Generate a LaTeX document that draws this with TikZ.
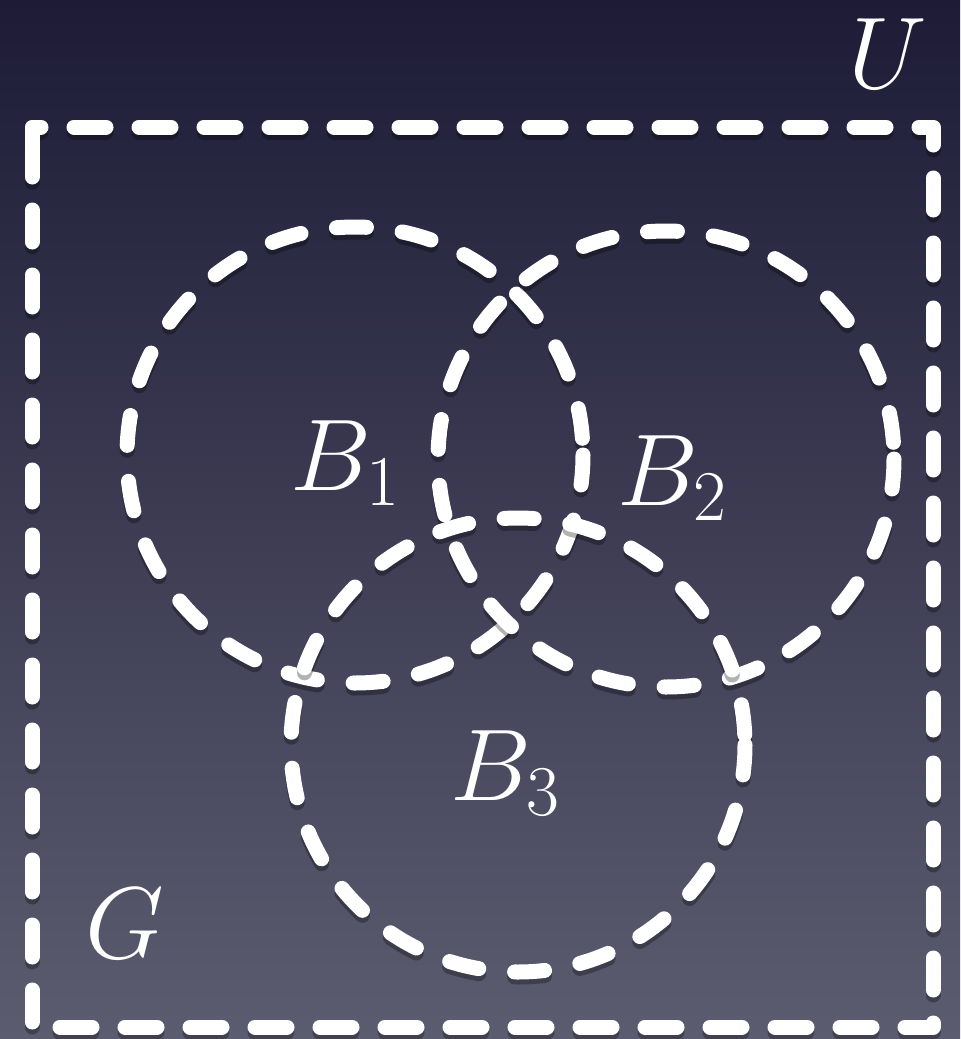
\RequirePackage{fix-cm}
\documentclass[tikz,border=0pt]{standalone}

\definecolor{bgtop}{RGB}{29,27,54}
\definecolor{bgbot}{RGB}{92,92,112}

\begin{document}
\begin{tikzpicture}[x=0.5pt, y=-0.5pt,
  dropshadow/.style={draw=black, opacity=.3, line width=7.5pt, line cap=round,
    line join=round, transform canvas={yshift=-2.5pt}},
  dashline/.style={draw=white, line width=7.5pt, line cap=round, line join=round},
  boxline/.style={dashline, dash pattern=on 16pt off 16.5pt,
    preaction={dropshadow, dash pattern=on 16pt off 16.5pt}},
  ringline/.style={dashline, dash pattern=on 15pt off 18pt,
    preaction={dropshadow, dash pattern=on 15pt off 18pt}},
  setlabel/.style={anchor=base west, inner sep=0pt, text=white,
    font=\fontsize{51}{60}\selectfont}]
  % background, 960 x 1039 px
  \fill[top color=bgtop, bottom color=bgbot] (0,0) rectangle (960,1039);
  \useasboundingbox (0,0) rectangle (960,1039);

  % universe G
  \draw[boxline] (32,150) -- (32,127) -- (933,127) -- (933,1027) -- (32,1027) -- cycle;

  % the three balls
  \coordinate (c1) at (355,455);
  \coordinate (c2) at (666,459);
  \coordinate (c3) at (518,745);
  \draw[ringline] (c1) circle[radius=228];
  \draw[ringline] (c2) circle[radius=228];
  \draw[ringline] (c3) circle[radius=227];

  % labels
  \node[setlabel] (lab1) at (290,490) {$B_1$};
  \node[setlabel] (lab2) at (617,505) {$B_2$};
  \node[setlabel] (lab3) at (450,800) {$B_3$};
  \node[setlabel] (labG) at (85,958) {$G$};
  \node[setlabel] (labU) at (848,88) {$U$};
\end{tikzpicture}
\end{document}
